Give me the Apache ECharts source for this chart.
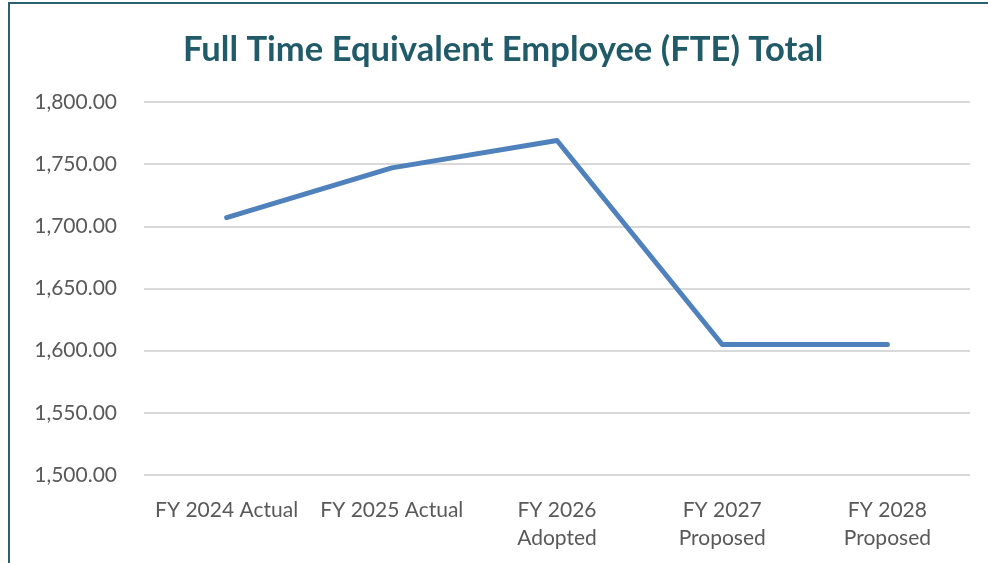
<!DOCTYPE html>
<html>
<head>
<meta charset="utf-8">
<script src="https://cdn.jsdelivr.net/npm/echarts@6/dist/echarts.min.js"></script>
<style>
  html, body { margin: 0; padding: 0; background: #fff; }
  #chart { width: 988px; height: 563px; }
</style>
</head>
<body>
<div id="chart"></div>
<script>
const categories = ['FY 2024 Actual', 'FY 2025 Actual', 'FY 2026\nAdopted', 'FY 2027\nProposed', 'FY 2028\nProposed']
const fteTotal = [1707, 1747, 1769, 1605, 1605]
const yTicks = { min: 1500, max: 1800, step: 50 }

const font = 'Lato, "Open Sans", sans-serif'
const chart = echarts.init(document.getElementById('chart'))

chart.setOption({
  backgroundColor: '#fff',
  animation: false,
  title: {
    text: 'Full Time Equivalent Employee (FTE) Total',
    left: 178,
    top: 27,
    textStyle: { fontFamily: font, fontSize: 34.6, fontWeight: 'bold', color: '#215B69' }
  },
  graphic: [{
    type: 'rect',
    shape: { x: 9, y: 3, width: 1200, height: 800 },
    style: { fill: 'none', stroke: '#2B6070', lineWidth: 2 },
    silent: true
  }],
  grid: { left: 144, right: 18, top: 102, bottom: 88 },
  xAxis: {
    type: 'category',
    data: categories,
    boundaryGap: true,
    axisLine: { show: false },
    axisTick: { show: false },
    axisLabel: {
      margin: 21,
      interval: 0,
      fontFamily: font,
      fontSize: 21,
      lineHeight: 28,
      color: '#595959'
    }
  },
  yAxis: {
    type: 'value',
    min: yTicks.min,
    max: yTicks.max,
    interval: yTicks.step,
    axisLine: { show: false },
    axisTick: { show: false },
    splitLine: { lineStyle: { color: '#D9D9D9', width: 2 } },
    axisLabel: {
      margin: 27,
      fontFamily: font,
      fontSize: 21,
      color: '#595959',
      formatter: v => v.toLocaleString('en-US', { minimumFractionDigits: 2, maximumFractionDigits: 2 })
    }
  },
  series: [{
    type: 'line',
    data: fteTotal,
    symbol: 'none',
    lineStyle: { color: '#4F81BD', width: 5, cap: 'round', join: 'round' }
  }]
})
</script>
</body>
</html>
